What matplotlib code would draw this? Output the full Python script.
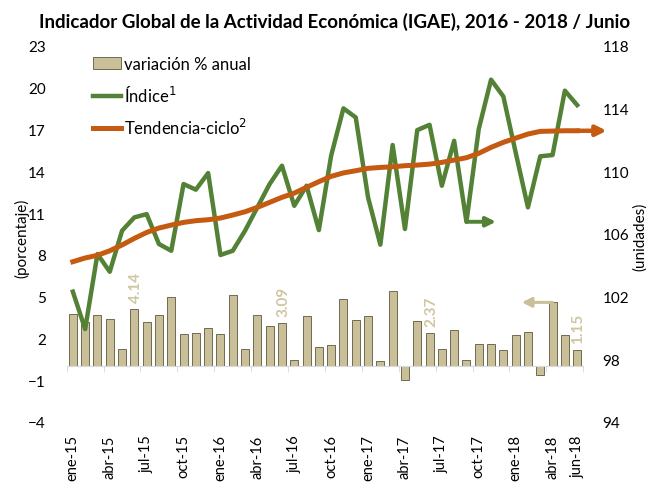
import numpy as np
import matplotlib
matplotlib.use('Agg')
import matplotlib.pyplot as plt
from matplotlib.patches import Patch
from matplotlib.lines import Line2D

plt.rcParams['font.family'] = ['Lato', 'DejaVu Sans']

# ene-15 .. jun-18
meses = ['ene', 'feb', 'mar', 'abr', 'may', 'jun', 'jul', 'ago', 'sep', 'oct', 'nov', 'dic']
periodos = [f'{m}-{a}' for a in (15, 16, 17) for m in meses] + [f'{m}-18' for m in meses[:6]]

var_anual = [3.76, 3.20, 3.68, 3.40, 1.24, 4.14, 3.21, 3.68, 4.95, 2.32, 2.39, 2.75,
             2.32, 5.12, 1.24, 3.68, 2.87, 3.09, 0.48, 3.59, 1.41, 1.53, 4.81, 3.33,
             3.59, 0.41, 5.43, -0.98, 3.23, 2.37, 1.24, 2.63, 0.48, 1.60, 1.60, 1.20,
             2.25, 2.44, -0.62, 4.59, 2.25, 1.15]

indice = [102.32, 99.93, 104.72, 103.59, 106.21, 107.06, 107.27, 105.36, 104.93, 109.19, 108.83, 109.89,
          104.66, 104.93, 106.21, 107.70, 109.19, 110.36, 107.80, 109.08, 106.25, 111.00, 114.02, 113.44,
          108.34, 105.32, 111.68, 106.32, 112.63, 112.97, 109.08, 111.95, 106.78, 112.70, 115.85, 114.78,
          111.21, 107.70, 110.96, 111.04, 115.15, 114.23]

tendencia = [104.23, 104.47, 104.64, 104.93, 105.30, 105.72, 106.10, 106.38, 106.57, 106.74, 106.85, 106.91,
             107.02, 107.21, 107.42, 107.70, 108.02, 108.34, 108.61, 108.98, 109.34, 109.68, 109.90, 110.04,
             110.19, 110.25, 110.29, 110.36, 110.40, 110.46, 110.57, 110.72, 110.87, 111.15, 111.53, 111.85,
             112.12, 112.38, 112.55, 112.57, 112.59, 112.59]

etiquetas_x = ['ene-15', 'abr-15', 'jul-15', 'oct-15', 'ene-16', 'abr-16', 'jul-16', 'oct-16',
               'ene-17', 'abr-17', 'jul-17', 'oct-17', 'ene-18', 'abr-18', 'jun-18']
meses_junio = ['jun-15', 'jun-16', 'jun-17', 'jun-18']

verde = '#538135'
naranja = '#c55a11'
beige = '#c9c09a'
beige_txt = '#cfc7a2'

W, H = 657, 485
fig = plt.figure(figsize=(W / 100, H / 100), dpi=100)
ax = fig.add_axes([66.7 / W, 62 / H, (583.3 - 66.7) / W, 376 / H])

x = np.arange(len(periodos))
ax.bar(x, var_anual, width=0.65, color=beige, edgecolor='#6f6a50', linewidth=0.7)
ax.set_xlim(-0.5, len(periodos) - 0.5)
ax.set_ylim(-4, 23)
ax.set_yticks(range(-4, 24, 3))
for s in ['top', 'left', 'right']:
    ax.spines[s].set_visible(False)
ax.spines['bottom'].set_position(('data', 0))
ax.spines['bottom'].set_color('#d9d9d9')
ax.set_xticks([periodos.index(p) for p in etiquetas_x])
ax.set_xticklabels(etiquetas_x, rotation=90)
ax.set_xticks(np.arange(-0.5, len(periodos), 3), minor=True)
ax.tick_params(axis='x', which='major', length=0, pad=49, labelsize=10.5)
ax.tick_params(axis='x', which='minor', length=4, color='#d9d9d9')
ax.tick_params(axis='y', length=0, pad=15, labelsize=11)

for p in meses_junio:
    i = periodos.index(p)
    ax.annotate(f'{var_anual[i]:.2f}', (i, var_anual[i]), xytext=(1, 5), textcoords='offset points',
                rotation=90, ha='center', va='bottom', color=beige_txt, fontweight='bold', fontsize=11)

# flecha beige hacia el eje izquierdo
ia = periodos.index('abr-18')
ax.annotate('', xy=(ia - 2.5, var_anual[ia]), xytext=(ia, var_anual[ia]),
            arrowprops=dict(arrowstyle='-|>', color=beige, lw=2.2, mutation_scale=14,
                            shrinkA=0, shrinkB=0))

ax2 = ax.twinx()
ax2.plot(x, indice, color=verde, lw=3.2)
ax2.plot(x, tendencia, color=naranja, lw=3.6)
ax2.set_ylim(94, 118)
ax2.set_yticks(range(94, 119, 4))
for s in ax2.spines.values():
    s.set_visible(False)
ax2.tick_params(axis='y', length=0, pad=14, labelsize=11)

# flechas hacia el eje derecho
isep = periodos.index('sep-17')
ax2.annotate('', xy=(isep + 2.4, indice[isep]), xytext=(isep, indice[isep]),
             arrowprops=dict(arrowstyle='-|>', color=verde, lw=2.8, mutation_scale=14,
                             shrinkA=0, shrinkB=0))
ax2.annotate('', xy=(x[-1] + 2.4, tendencia[-1]), xytext=(x[-1], tendencia[-1]),
             arrowprops=dict(arrowstyle='-|>', color=naranja, lw=3.2, mutation_scale=15,
                             shrinkA=0, shrinkB=0), annotation_clip=False)

handles = [Patch(facecolor=beige, edgecolor='#6f6a50', linewidth=0.7),
           Line2D([], [], color=verde, lw=3.2),
           Line2D([], [], color=naranja, lw=3.6)]
fig.legend(handles, ['variación % anual', 'Índice$^1$', 'Tendencia-ciclo$^2$'],
           loc='upper left', bbox_to_anchor=(93 / W, 1 - 57 / H), frameon=False,
           fontsize=12, handlelength=1.7, handletextpad=0.15, labelspacing=0.75,
           borderpad=0, borderaxespad=0)

fig.text(335 / W, 1 - 22 / H, 'Indicador Global de la Actividad Económica (IGAE), 2016 - 2018 / Junio',
         ha='center', va='center', fontsize=13.5, fontweight='bold')
fig.text(22 / W, 1 - 238 / H, '(porcentaje)', rotation=90, ha='center', va='center', fontsize=11)
fig.text(640 / W, 1 - 237 / H, '(unidades)', rotation=90, ha='center', va='center', fontsize=11)

fig.savefig('out.png', dpi=100)
